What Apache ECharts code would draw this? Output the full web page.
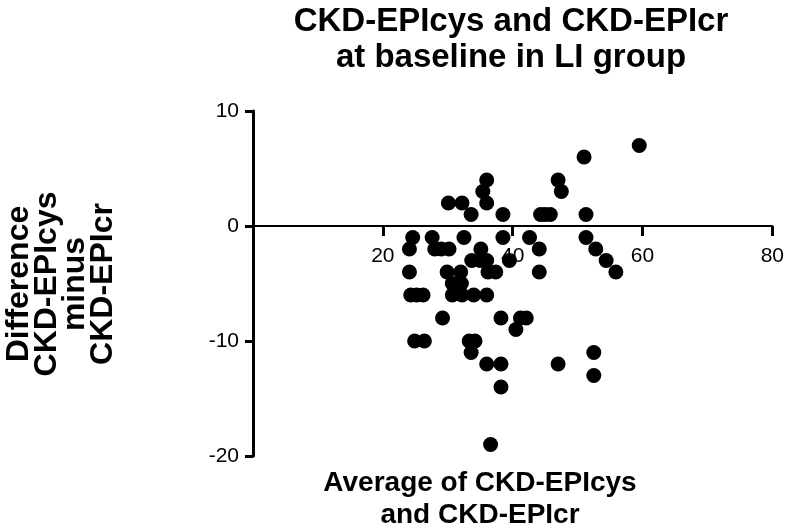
<!DOCTYPE html>
<html>
<head>
<meta charset="utf-8">
<script src="https://cdn.jsdelivr.net/npm/echarts@6/dist/echarts.min.js"></script>
<style>
html,body{margin:0;padding:0;background:#fff;}
#chart{width:787px;height:530px;}
</style>
</head>
<body>
<div id="chart"></div>
<script>
// Average of CKD-EPIcys and CKD-EPIcr (x)
const avgValues = [
  59.5, 51, 47, 47.5, 44.3, 45, 45.8, 51.3, 36, 35.4, 36, 30.1, 32.2, 33.6, 38.5,
  24.6, 24.1, 27.6, 28, 29, 30.2, 32.5, 35.1, 33.7, 35, 36, 38.5, 39.5, 42.6, 44.1, 44.1,
  51.3, 52.8, 54.4, 55.9,
  24.1, 29.9, 32, 36.2, 37.4,
  30.7, 32.1,
  24.3, 25.2, 26.2, 30.7, 32.2, 34, 36,
  29.2, 38.2, 41.2, 42.1, 40.5,
  24.9, 26.4, 33.3, 34.2, 33.6,
  36, 38.2, 47, 52.5, 52.5, 38.2, 36.6
];
// Difference CKD-EPIcys minus CKD-EPIcr (y)
const diffValues = [
  7, 6, 4, 3, 1, 1, 1, 1, 4, 3, 2, 2, 2, 1, 1,
  -1, -2, -1, -2, -2, -2, -1, -2, -3, -3, -3, -1, -3, -1, -2, -4,
  -1, -2, -3, -4,
  -4, -4, -4, -4, -4,
  -5, -5,
  -6, -6, -6, -6, -6, -6, -6,
  -8, -8, -8, -8, -9,
  -10, -10, -10, -10, -11,
  -12, -12, -12, -11, -13, -14, -19
];
const xTicks = [0, 80, 20];   // min, max, interval
const yTicks = [-20, 10, 10]; // min, max, interval
const titleText = 'CKD-EPIcys and CKD-EPIcr\nat baseline in LI group';
const xTitle = 'Average of CKD-EPIcys\nand CKD-EPIcr';
const yTitle = 'Difference\nCKD-EPIcys\nminus\nCKD-EPIcr';

const points = avgValues.map((v, i) => [v, diffValues[i]]);
const FONT = '"Liberation Sans", Arial, sans-serif';

const gridTop = 111, gridBottom = 74, H = 530;
const plotH = H - gridTop - gridBottom;
// place the x axis at y = 0 (offset upward from the bottom of the grid)
const zeroOffset = -plotH * (0 - yTicks[0]) / (yTicks[1] - yTicks[0]);

const chart = echarts.init(document.getElementById('chart'), null, {renderer: 'canvas'});
chart.setOption({
  animation: false,
  backgroundColor: '#fff',
  grid: {left: 253, right: 12, top: gridTop, bottom: gridBottom, containLabel: false},
  xAxis: {
    type: 'value', min: xTicks[0], max: xTicks[1], interval: xTicks[2],
    position: 'bottom', offset: zeroOffset,
    axisLine: {onZero: false, lineStyle: {color: '#000', width: 2}},
    axisTick: {show: true, length: 10, lineStyle: {color: '#000', width: 3}},
    axisLabel: {show: true, showMinLabel: false, margin: 20, color: '#000', fontSize: 21, fontFamily: FONT},
    splitLine: {show: false}
  },
  yAxis: {
    type: 'value', min: yTicks[0], max: yTicks[1], interval: yTicks[2],
    axisLine: {show: true, onZero: false, lineStyle: {color: '#000', width: 3}},
    axisTick: {show: true, length: 8, lineStyle: {color: '#000', width: 3}},
    axisLabel: {margin: 14, color: '#000', fontSize: 21, fontFamily: FONT},
    splitLine: {show: false}
  },
  series: [{
    type: 'scatter',
    data: points,
    symbol: 'circle',
    symbolSize: 15,
    itemStyle: {color: '#000', opacity: 1}
  }],
  graphic: [
    {type: 'text', x: 511, y: 4, style: {text: titleText, fill: '#000', fontSize: 33, fontWeight: 'bold', fontFamily: FONT, textAlign: 'center', textVerticalAlign: 'top', lineHeight: 36}},
    {type: 'text', x: 480, y: 467, style: {text: xTitle, fill: '#000', fontSize: 28, fontWeight: 'bold', fontFamily: FONT, textAlign: 'center', textVerticalAlign: 'top', lineHeight: 32}},
    {type: 'text', x: 61, y: 284, rotation: Math.PI / 2, style: {text: yTitle, fill: '#000', fontSize: 32, fontWeight: 'bold', fontFamily: FONT, textAlign: 'center', textVerticalAlign: 'middle', lineHeight: 28}}
  ]
});
</script>
</body>
</html>
